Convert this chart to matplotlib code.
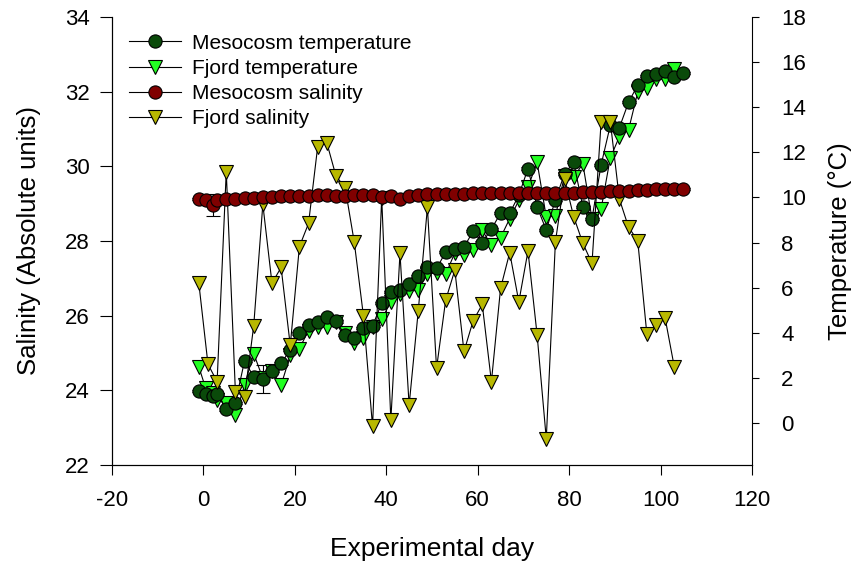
import matplotlib
matplotlib.use("Agg")
import matplotlib.pyplot as plt
import numpy as np

plt.rcParams['font.family'] = ['Liberation Sans', 'DejaVu Sans']
plt.rcParams['axes.unicode_minus'] = False

# sampling days
meso_days = [-1, 0.5, 2, 3] + list(range(5, 106, 2))
fjord_t_days = [-1, 0.5, 2, 3] + list(range(5, 104, 2))
fjord_s_days = list(range(-1, 104, 2))

# mesocosm temperature (deg C)
meso_temp = [1.42, 1.3, 1.2, 1.3, 0.6, 0.9, 2.75, 2.05, 1.95, 2.3, 2.64, 3.25,
             3.97, 4.36, 4.48, 4.70, 4.5, 3.9, 3.75, 4.22, 4.3, 5.32, 5.81, 5.88,
             6.16, 6.52, 6.92, 6.85, 7.58, 7.73, 7.8, 8.5, 8.0, 8.6, 9.3, 9.3,
             10.1, 11.28, 9.58, 8.55, 9.9, 11.05, 11.56, 9.57, 9.06, 11.45, 13.19,
             13.1, 14.22, 14.98, 15.38, 15.47, 15.59, 15.33, 15.52]
meso_temp_err = [0.05] * len(meso_temp)
meso_temp_err[8] = 0.6

# fjord temperature (deg C)
fjord_temp = [2.49, 1.54, 1.31, 1.02, 0.87, 0.35, 1.68, 3.08, 1.98, 2.31, 1.68,
              3.0, 3.3, 4.1, 4.26, 4.26, 4.48, 4.01, 3.55, 3.75, 4.26, 4.6, 5.37,
              5.74, 5.85, 5.88, 6.62, 6.65, 6.59, 7.55, 7.43, 7.65, 8.54, 7.88,
              8.22, 9.06, 9.87, 10.46, 11.56, 9.13, 9.17, 10.97, 10.9, 11.49, 9.06,
              9.5, 11.75, 12.7, 13.0, 14.66, 14.85, 15.25, 15.25, 15.69]

# mesocosm salinity
meso_sal = [29.12, 29.1, 28.97, 29.1, 29.12, 29.12, 29.14, 29.15, 29.17, 29.18,
            29.2, 29.2, 29.2, 29.21, 29.22, 29.22, 29.2, 29.2, 29.22, 29.22,
            29.24, 29.18, 29.2, 29.12, 29.2, 29.24, 29.25, 29.26, 29.26, 29.27,
            29.27, 29.28, 29.28, 29.28, 29.28, 29.28, 29.29, 29.28, 29.28, 29.28,
            29.29, 29.28, 29.29, 29.3, 29.31, 29.32, 29.33, 29.34, 29.35, 29.36,
            29.37, 29.38, 29.39, 29.39, 29.4]
meso_sal_err = [0.03] * len(meso_sal)
meso_sal_err[2] = 0.3

# fjord salinity
fjord_sal = [26.87, 24.70, 24.23, 29.86, 23.96, 23.83, 25.72, 28.98, 26.87, 27.29,
             25.2, 27.85, 28.47, 30.53, 30.63, 29.74, 29.43, 27.97, 26.0, 23.03,
             29.16, 23.2, 27.67, 23.6, 26.13, 28.9, 24.59, 26.42, 27.22, 25.04,
             25.86, 26.3, 24.23, 26.73, 27.69, 26.37, 27.73, 25.48, 22.7, 27.98,
             29.65, 28.65, 27.94, 27.40, 31.2, 31.2, 29.12, 28.37, 28.01, 25.51,
             25.75, 25.93, 24.63]

fig = plt.figure(figsize=(8.56, 5.67), dpi=100)
ax = fig.add_axes([0.1308, 0.180, 0.7477, 0.790])
ax2 = ax.twinx()
ax.set_zorder(ax2.get_zorder() + 1)
ax.patch.set_visible(False)

ms_c = 9.5
ms_t = 10.5
lw = 0.8

# temperature on the right axis
l1 = ax2.errorbar(meso_days, meso_temp, yerr=meso_temp_err, color='black', lw=lw,
                  marker='o', ms=ms_c, mfc='#0a4a0a', mec='black', mew=0.8,
                  capsize=5, elinewidth=0.8)
l2, = ax2.plot(fjord_t_days, fjord_temp, color='black', lw=lw, marker='v', ms=ms_t,
               mfc='#22ff22', mec='black', mew=0.8)

# salinity on the left axis
l3 = ax.errorbar(meso_days, meso_sal, yerr=meso_sal_err, color='black', lw=lw,
                 marker='o', ms=ms_c, mfc='#800000', mec='black', mew=0.8,
                 capsize=5, elinewidth=0.8)
l4, = ax.plot(fjord_s_days, fjord_sal, color='black', lw=lw, marker='v', ms=ms_t,
              mfc='#b8b800', mec='black', mew=0.8)

ax.set_xlim(-20, 120)
ax.set_ylim(22, 34)
ax2.set_ylim(-1.86, 18)
ax.set_xticks(np.arange(-20, 121, 20))
ax.set_yticks(np.arange(22, 35, 2))
ax2.set_yticks(np.arange(0, 19, 2))

for a in (ax, ax2):
    a.spines['top'].set_visible(False)
ax.spines['right'].set_visible(False)

ax.tick_params(axis='x', direction='out', length=7, labelsize=16, pad=11)
ax.tick_params(axis='y', direction='out', length=9, labelsize=16, pad=7)
ax2.tick_params(axis='y', direction='out', length=5, labelsize=16, pad=16)

ax.set_xlabel('Experimental day', fontsize=19, labelpad=19)
ax.set_ylabel('Salinity (Absolute units)', fontsize=18.5, labelpad=17)
ax2.set_ylabel('Temperature (°C)', fontsize=18.5, labelpad=16)

ax.legend([l1[0], l2, l3[0], l4],
          ['Mesocosm temperature', 'Fjord temperature', 'Mesocosm salinity', 'Fjord salinity'],
          loc='upper left', bbox_to_anchor=(0.0, 1.0), frameon=False, fontsize=15,
          handlelength=2.5, handletextpad=0.55, labelspacing=0.3, borderaxespad=0.4)

fig.savefig('out.png', dpi=100)
